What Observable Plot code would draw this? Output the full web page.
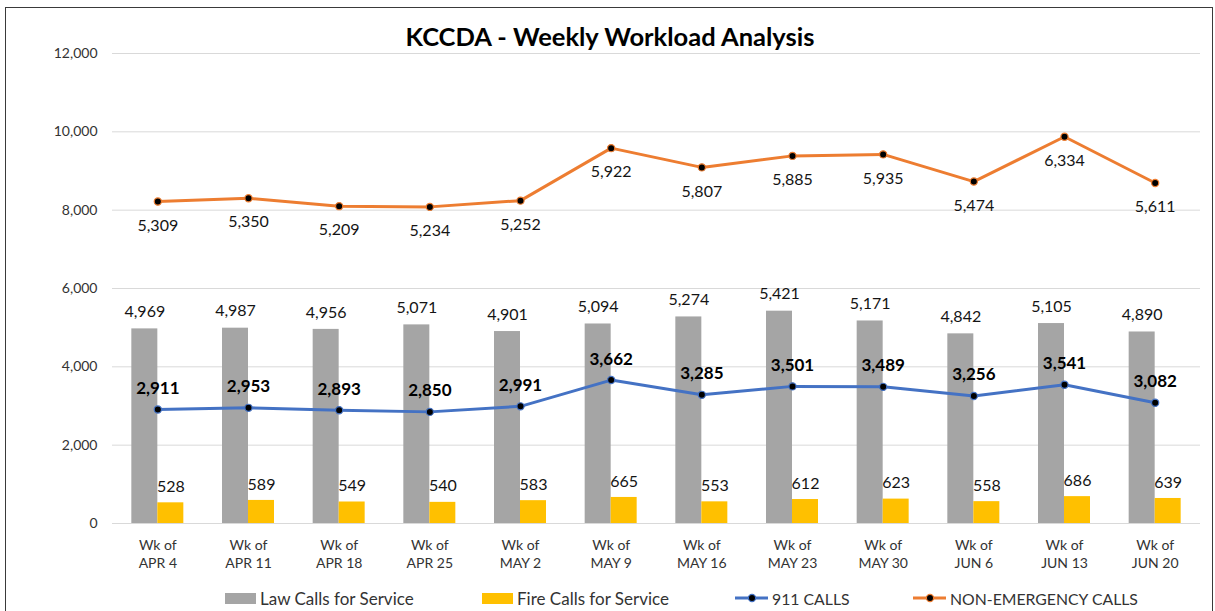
<!DOCTYPE html>
<html>
<head>
<meta charset="utf-8">
<script src="https://cdn.jsdelivr.net/npm/d3@7"></script>
<script src="https://cdn.jsdelivr.net/npm/@observablehq/plot@0.6"></script>
<style>
  html, body { margin: 0; padding: 0; background: #fff; }
  body { width: 1215px; height: 611px; overflow: hidden; position: relative; font-family: Lato, "Open Sans", sans-serif; }
  #frame { position: absolute; left: 5px; top: 7px; width: 1206px; height: 700px; border: 1.5px solid #3a3a3a; pointer-events: none; }
  #title { height: 45px; box-sizing: border-box; padding-top: 24px; text-align: center; font-weight: bold; font-size: 25.5px; line-height: 25.5px; color: #000; padding-left: 5px; white-space: nowrap; }
  #chart svg { display: block; }
  #legend { position: relative; height: 36px; font-size: 17px; color: #333; }
  .item { position: absolute; top: 5px; height: 36px; display: flex; align-items: center; white-space: nowrap; }
  .caps span { font-size: 15.8px; }
</style>
</head>
<body>
<div id="frame"></div>
<div id="title">KCCDA - Weekly Workload Analysis</div>
<div id="chart"></div>
<div id="legend"></div>
<script>
const weeks = ["APR 4", "APR 11", "APR 18", "APR 25", "MAY 2", "MAY 9", "MAY 16", "MAY 23", "MAY 30", "JUN 6", "JUN 13", "JUN 20"];
const lawCalls = [4969, 4987, 4956, 5071, 4901, 5094, 5274, 5421, 5171, 4842, 5105, 4890];
const fireCalls = [528, 589, 549, 540, 583, 665, 553, 612, 623, 558, 686, 639];
const calls911 = [2911, 2953, 2893, 2850, 2991, 3662, 3285, 3501, 3489, 3256, 3541, 3082];
const nonEmergency = [5309, 5350, 5209, 5234, 5252, 5922, 5807, 5885, 5935, 5474, 6334, 5611];
const yTicks = [0, 2000, 4000, 6000, 8000, 10000, 12000];

const seriesNames = ["Law Calls for Service", "Fire Calls for Service", "911 CALLS", "NON-EMERGENCY CALLS"];
const colors = {law: "#A5A5A5", fire: "#FFC000", c911: "#4472C4", ne: "#ED7D31"};

const rows = weeks.map((w, i) => ({
  week: w,
  law: lawCalls[i],
  fire: fireCalls[i],
  c911: calls911[i],
  ne: nonEmergency[i],
  neStack: calls911[i] + nonEmergency[i]
}));
const fmt = d3.format(",");
const axisColor = "#333";
const labelColor = "#141414";

const W = 1215, ML = 112, MR = 15;
const step = (W - ML - MR) / weeks.length;
const barW = 26;

const chart = Plot.plot({
  width: W,
  height: 530,
  marginTop: 8,
  marginBottom: 52,
  marginLeft: ML,
  marginRight: MR,
  style: {fontFamily: "Lato, 'Open Sans', sans-serif", color: axisColor, background: "transparent"},
  x: {domain: weeks, padding: 0, round: false, axis: null},
  y: {domain: [0, 12000], axis: null},
  marks: [
    Plot.gridY(yTicks, {stroke: "#D9D9D9", strokeOpacity: 1, strokeWidth: 1}),
    Plot.axisY(yTicks, {tickSize: 0, tickPadding: 15, tickFormat: fmt, fontSize: 14, fill: axisColor}),
    // bars
    Plot.barY(rows, {x: "week", y: "law", fill: colors.law, insetLeft: step / 2 - barW, insetRight: step / 2}),
    Plot.barY(rows, {x: "week", y: "fire", fill: colors.fire, insetLeft: step / 2, insetRight: step / 2 - barW}),
    // bar labels
    Plot.text(rows, {x: "week", y: "law", text: d => fmt(d.law), dx: -barW / 2, dy: -17, fontSize: 16, fill: labelColor}),
    Plot.text(rows, {x: "week", y: "fire", text: d => fmt(d.fire), dx: barW / 2, dy: -16, fontSize: 16, fill: labelColor}),
    // lines
    Plot.line(rows, {x: "week", y: "c911", stroke: colors.c911, strokeWidth: 3}),
    Plot.line(rows, {x: "week", y: "neStack", stroke: colors.ne, strokeWidth: 3}),
    Plot.dot(rows, {x: "week", y: "c911", r: 3.6, fill: "#000", stroke: colors.c911, strokeWidth: 1.2}),
    Plot.dot(rows, {x: "week", y: "neStack", r: 3.6, fill: "#000", stroke: colors.ne, strokeWidth: 1.2}),
    Plot.text(rows, {x: "week", y: "c911", text: d => fmt(d.c911), dy: -21, fontSize: 17, fontWeight: "bold", fill: "#000"}),
    Plot.text(rows, {x: "week", y: "neStack", text: d => fmt(d.ne), dy: 24, fontSize: 16, fill: labelColor}),
    // x labels
    Plot.text(weeks, {x: d => d, y: () => 0, text: d => "Wk of\n" + d, dy: 30, lineAnchor: "middle", lineHeight: 1.28, fontSize: 14, fill: axisColor})
  ]
});
document.getElementById("chart").appendChild(chart);

// legend
const legend = document.getElementById("legend");
function addItem(left, symbolSvg, label, cls) {
  const el = document.createElement("div");
  el.className = "item" + (cls ? " " + cls : "");
  el.style.left = left + "px";
  el.innerHTML = symbolSvg + `<span style="margin-left:4px">${label}</span>`;
  legend.appendChild(el);
}
const rectSym = c => `<svg width="31" height="11" style="display:block"><rect width="31" height="11" fill="${c}"/></svg>`;
const lineSym = c => `<svg width="33" height="12" style="display:block"><line x1="0" x2="33" y1="6" y2="6" stroke="${c}" stroke-width="3"/><circle cx="17" cy="6" r="3.6" fill="#000" stroke="${c}" stroke-width="1.2"/></svg>`;
addItem(225, rectSym(colors.law), seriesNames[0]);
addItem(482, rectSym(colors.fire), seriesNames[1]);
addItem(735, lineSym(colors.c911), seriesNames[2], "caps");
addItem(913, lineSym(colors.ne), seriesNames[3], "caps");
</script>
</body>
</html>
